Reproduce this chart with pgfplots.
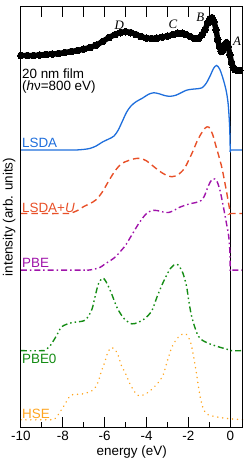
\documentclass[border=0pt]{standalone}
\usepackage{pgfplots}
\pgfplotsset{compat=1.18}
\usepackage{fontspec}
\setmainfont{Liberation Sans}
\newfontfamily\serifit{Liberation Serif}
\definecolor{clsda}{RGB}{30,110,220}
\definecolor{clsdau}{RGB}{232,80,40}
\definecolor{cpbe}{RGB}{160,20,170}
\definecolor{cpbez}{RGB}{20,140,20}
\definecolor{chse}{RGB}{255,165,30}
\begin{document}
\begin{tikzpicture}[font=\fontsize{13.5bp}{15bp}\selectfont]
\begin{axis}[name=ax,
  scale only axis, width=223bp, height=423bp,
  xmin=-10, xmax=0.584, ymin=-427, ymax=-4,
  clip=false,
  xtick pos=left, tick align=inside,
  xtick={-10,-8,-6,-4,-2,0},
  xticklabels={-10,-8,-6,-4,-2,0},
  minor xtick={-9,-7,-5,-3,-1},
  ytick=\empty,
  major tick length=10bp, minor tick length=5bp,
  axis line style={line width=0.8bp},
  tick style={line width=0.8bp, black},
  xticklabel style={anchor=base, yshift=-13bp, inner sep=0pt, font=\fontsize{13.5bp}{15bp}\selectfont},
  xlabel={energy (eV)},
  ylabel={intensity (arb. units)},
  every axis x label/.style={at={(axis description cs:0.5,0)}, anchor=base, yshift=-28bp, inner sep=0pt},
  every axis y label/.style={at={(axis description cs:-0.024,0.5)}, anchor=south, rotate=90, inner sep=0pt},
]
% vertical line at zero
\addplot[black, line width=0.8bp] coordinates {(0,-427) (0,-4)};
% experiment
\addplot[black, line width=5.5bp, smooth, mark=*, mark size=3.4bp, mark options={fill=black, draw=black, line width=0pt}] coordinates {
(-10.0,-53) (-9.7,-53) (-9.4,-53) (-9.1,-52.5) (-8.8,-52) (-8.5,-51.5) (-8.2,-51) (-7.9,-50) (-7.6,-49) (-7.3,-48) (-7.0,-46.5) (-6.7,-45) (-6.4,-42.5) (-6.1,-39) (-5.8,-35) (-5.5,-32) (-5.25,-30) (-5.0,-29) (-4.75,-30) (-4.5,-32) (-4.25,-34) (-4.0,-35.5) (-3.75,-36) (-3.5,-35.5) (-3.25,-34.5) (-3.0,-33.5) (-2.75,-32) (-2.5,-30.5) (-2.3,-30.5) (-2.1,-32) (-1.9,-34) (-1.7,-36) (-1.5,-35.5) (-1.35,-32) (-1.2,-27) (-1.08,-20) (-0.97,-16) (-0.88,-15) (-0.78,-19) (-0.68,-27) (-0.6,-37) (-0.52,-44) (-0.43,-49) (-0.35,-47) (-0.27,-42) (-0.18,-40) (-0.1,-44) (-0.02,-52) (0.06,-60) (0.14,-65) (0.22,-67) (0.32,-68) (0.45,-68)};
% LSDA
\addplot[clsda, line width=1.3bp, smooth] coordinates {
(-10,-148) (-7.5,-148) (-7.3,-148) (-7.0,-147.5) (-6.7,-146.5) (-6.4,-144) (-6.1,-140) (-5.8,-137) (-5.55,-134) (-5.35,-128) (-5.15,-119) (-4.95,-110) (-4.75,-104) (-4.5,-99.5) (-4.2,-96) (-3.9,-92) (-3.65,-90.5) (-3.4,-91.5) (-3.1,-93.5) (-2.85,-94) (-2.6,-93) (-2.35,-90.5) (-2.1,-88) (-1.85,-87) (-1.6,-86.5) (-1.35,-85.5) (-1.15,-81) (-0.95,-73) (-0.8,-66) (-0.65,-63) (-0.5,-67) (-0.35,-76) (-0.2,-88) (-0.1,-102) (-0.03,-125) (0.0,-148) (0.03,-148) (0.584,-148)};
% LSDA+U
\addplot[clsdau, line width=1.4bp, smooth, dash pattern=on 6.5bp off 4bp] coordinates {
(-10,-212) (-7.8,-212) (-7.6,-211.5) (-7.3,-209) (-7.0,-205) (-6.7,-202) (-6.4,-198) (-6.1,-190) (-5.8,-179) (-5.5,-169) (-5.2,-162) (-4.9,-159) (-4.6,-157) (-4.3,-156.5) (-4.0,-159) (-3.7,-164) (-3.4,-169) (-3.1,-173) (-2.8,-175) (-2.5,-173) (-2.2,-167) (-2.0,-159) (-1.8,-150) (-1.6,-140) (-1.4,-132) (-1.2,-126) (-1.03,-125) (-0.85,-132) (-0.7,-143) (-0.55,-154) (-0.4,-166) (-0.25,-182) (-0.12,-197) (-0.03,-208) (0,-212) (0.03,-212) (0.584,-212)};
% PBE
\addplot[cpbe, line width=1.4bp, smooth, dash pattern=on 6bp off 3bp on 1.5bp off 3bp] coordinates {
(-10,-269) (-7.0,-269) (-6.8,-269) (-6.5,-268) (-6.2,-266) (-6.0,-263) (-5.7,-259) (-5.45,-255) (-5.2,-249) (-5.0,-244) (-4.8,-237) (-4.6,-230) (-4.4,-223) (-4.2,-217) (-4.0,-212) (-3.75,-209) (-3.5,-209) (-3.2,-210.5) (-2.95,-211) (-2.7,-209) (-2.45,-206) (-2.2,-204) (-1.9,-202) (-1.65,-201) (-1.4,-199) (-1.25,-195) (-1.1,-187) (-0.95,-180) (-0.8,-177) (-0.65,-179) (-0.5,-188) (-0.35,-203) (-0.2,-220) (-0.08,-234) (-0.02,-250) (0,-269) (0.03,-269) (0.584,-269)};
% PBE0
\addplot[cpbez, line width=1.4bp, smooth, dash pattern=on 6bp off 3bp on 1.5bp off 3bp on 1.5bp off 3bp] coordinates {
(-10,-350) (-9.0,-350) (-8.85,-349.5) (-8.6,-345) (-8.3,-335) (-8.05,-326) (-7.6,-322) (-7.0,-320) (-6.8,-316) (-6.6,-308) (-6.45,-295) (-6.3,-283) (-6.1,-277) (-5.95,-280) (-5.7,-291) (-5.4,-307) (-5.06,-318) (-4.7,-323) (-4.4,-321.5) (-4.1,-318) (-3.75,-310) (-3.5,-296) (-3.2,-281) (-2.85,-267) (-2.55,-263) (-2.3,-270) (-2.1,-284) (-1.98,-300) (-1.84,-316) (-1.6,-332) (-1.4,-338.5) (-1.0,-343) (-0.5,-346.5) (0,-349.5) (0.03,-350) (0.584,-350)};
% HSE
\addplot[chse, line width=1.6bp, smooth, line cap=round, dash pattern=on 0.1bp off 4.9bp] coordinates {
(-10,-419.5) (-8.6,-419.5) (-8.4,-419) (-8.2,-414) (-8.05,-409) (-7.9,-404) (-7.76,-399) (-7.58,-394.5) (-7.06,-393.5) (-6.58,-390) (-6.34,-383) (-6.16,-371) (-6.0,-362) (-5.87,-353) (-5.7,-347) (-5.5,-349) (-5.35,-355) (-5.2,-365) (-5.0,-373) (-4.8,-383) (-4.55,-392) (-4.35,-395.5) (-4.0,-393) (-3.7,-388) (-3.4,-381) (-3.2,-374) (-3.0,-360) (-2.8,-347) (-2.55,-338) (-2.3,-333.5) (-2.1,-333.5) (-1.9,-341) (-1.75,-356) (-1.6,-375) (-1.45,-395) (-1.3,-408) (-1.1,-414) (-0.8,-416) (-0.4,-417.5) (0,-418.5) (0.584,-419.5)};
% labels
\node[anchor=base west, inner sep=0pt] at (axis cs:-9.95,-76) {20 nm film};
\node[anchor=base west, inner sep=0pt] at (axis cs:-9.95,-88.5) {({\itshape h}ν=800 eV)};
\node[anchor=base west, inner sep=0pt, text=clsda] at (axis cs:-9.95,-146) {LSDA};
\node[anchor=base west, inner sep=0pt, text=clsdau] at (axis cs:-9.95,-210.5) {LSDA+{\itshape U}};
\node[anchor=base west, inner sep=0pt, text=cpbe] at (axis cs:-9.95,-266.5) {PBE};
\node[anchor=base west, inner sep=0pt, text=cpbez] at (axis cs:-9.95,-363) {PBE0};
\node[anchor=base west, inner sep=0pt, text=chse] at (axis cs:-9.95,-418) {HSE};
\node[anchor=base, inner sep=0pt, font=\fontsize{13bp}{15bp}\selectfont\serifit\itshape] at (axis cs:-5.30,-26.5) {D};
\node[anchor=base, inner sep=0pt, font=\fontsize{13bp}{15bp}\selectfont\serifit\itshape] at (axis cs:-2.74,-26) {C};
\node[anchor=base, inner sep=0pt, font=\fontsize{13bp}{15bp}\selectfont\serifit\itshape] at (axis cs:-1.43,-18.3) {B};
\node[anchor=base, inner sep=0pt, font=\fontsize{13bp}{15bp}\selectfont\serifit\itshape] at (axis cs:0.32,-42.7) {A};
\end{axis}
\begin{axis}[
  scale only axis, width=223bp, height=423bp,
  xmin=-10, xmax=0.584, ymin=-427, ymax=-4,
  xtick pos=right, tick align=inside,
  xtick={-10,-9,...,0}, xticklabels={},
  ytick=\empty,
  major tick length=10bp,
  axis line style={line width=0.8bp},
  tick style={line width=0.8bp, black},
]
\end{axis}
\path ([xshift=-21bp,yshift=-35bp]ax.south west) rectangle ([xshift=5bp,yshift=4bp]ax.north east);
\end{tikzpicture}
\end{document}
